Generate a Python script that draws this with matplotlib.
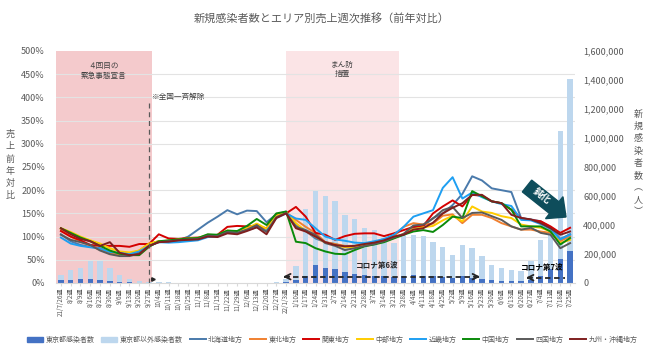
import matplotlib
matplotlib.use('Agg')
import matplotlib.pyplot as plt
import matplotlib.ticker as mticker
from matplotlib.patches import Patch, FancyArrow
from matplotlib.lines import Line2D
import numpy as np

plt.rcParams['font.family'] = ['Noto Sans CJK JP', 'DejaVu Sans']

# ---- データ ----
weeks = ['21/7/26週', '8/2週', '8/9週', '8/16週', '8/23週', '8/30週', '9/6週', '9/13週',
         '9/20週', '9/27週', '10/4週', '10/11週', '10/18週', '10/25週', '11/1週', '11/8週',
         '11/15週', '11/22週', '11/29週', '12/6週', '12/13週', '12/20週', '12/27週', '22/1/3週',
         '1/10週', '1/17週', '1/24週', '1/31週', '2/7週', '2/14週', '2/21週', '2/28週',
         '3/7週', '3/14週', '3/21週', '3/28週', '4/4週', '4/11週', '4/18週', '4/25週',
         '5/2週', '5/9週', '5/16週', '5/23週', '5/30週', '6/6週', '6/13週', '6/20週',
         '6/27週', '7/4週', '7/11週', '7/18週', '7/25週']

tokyo = [18000, 23000, 25000, 30000, 21000, 14000, 7000, 4000, 2000, 1500,
         1000, 600, 400, 300, 250, 200, 200, 200, 200, 250,
         300, 500, 800, 3500, 18000, 51000, 121000, 103000, 97000, 73000,
         62000, 55000, 50000, 46000, 42000, 48000, 52000, 50000, 45000, 40000,
         33000, 45000, 35000, 28000, 20000, 15000, 13000, 11000, 20000, 45000,
         95000, 165000, 220000]

others = [35000, 64000, 81000, 122000, 129000, 92000, 50000, 26000, 14000, 7500,
          4000, 2900, 2100, 1700, 1250, 1000, 800, 800, 800, 950,
          1200, 1500, 2700, 26500, 97000, 459000, 511000, 499000, 468000, 393000,
          377000, 324000, 318000, 264000, 234000, 285000, 276000, 271000, 238000, 206000,
          162000, 219000, 206000, 155000, 106000, 88000, 79000, 69000, 130000, 255000,
          275000, 885000, 1187000]

hokkaido = [105, 90, 82, 78, 75, 65, 63, 62, 68, 83,
            90, 90, 92, 100, 115, 130, 143, 157, 148, 156,
            155, 131, 148, 154, 125, 112, 96, 88, 84, 78,
            76, 80, 84, 90, 98, 104, 118, 122, 140, 150,
            168, 192, 230, 221, 204, 200, 196, 140, 137, 133,
            120, 95, 105]

tohoku = [115, 100, 90, 80, 72, 63, 62, 63, 70, 85,
          90, 91, 93, 95, 96, 103, 102, 112, 110, 117,
          127, 115, 143, 152, 136, 121, 108, 88, 84, 80,
          80, 85, 87, 93, 100, 121, 129, 126, 128, 145,
          148, 129, 147, 147, 140, 129, 122, 115, 115, 111,
          108, 90, 101]

kanto = [112, 100, 92, 82, 80, 80, 80, 78, 84, 84,
         105, 96, 95, 97, 98, 100, 104, 121, 123, 122,
         123, 118, 147, 150, 164, 143, 108, 104, 93, 101,
         106, 107, 107, 101, 107, 114, 121, 123, 150, 165,
         178, 165, 190, 188, 176, 172, 158, 140, 136, 133,
         122, 108, 119]

chubu = [118, 110, 100, 92, 85, 75, 68, 66, 70, 85,
         90, 91, 94, 96, 97, 104, 103, 113, 111, 118,
         128, 117, 145, 153, 129, 112, 100, 87, 82, 77,
         77, 82, 85, 90, 97, 106, 116, 120, 123, 135,
         145, 133, 165, 154, 151, 144, 140, 126, 122, 119,
         111, 86, 93]

kinki = [98, 85, 80, 77, 74, 67, 65, 62, 68, 80,
         88, 87, 88, 90, 92, 99, 100, 110, 108, 114,
         120, 112, 140, 150, 139, 136, 118, 100, 94, 91,
         87, 86, 90, 95, 104, 121, 143, 150, 157, 205,
         228, 182, 195, 185, 176, 170, 166, 136, 135, 127,
         116, 94, 104]

chugoku = [118, 108, 98, 90, 80, 70, 63, 60, 60, 78,
           90, 92, 94, 96, 97, 105, 104, 113, 112, 123,
           138, 125, 150, 154, 89, 86, 75, 68, 63, 62,
           71, 79, 83, 88, 96, 104, 111, 114, 110, 125,
           143, 140, 198, 187, 176, 172, 158, 122, 122, 122,
           111, 83, 97]

shikoku = [104, 93, 88, 82, 70, 62, 58, 58, 64, 80,
           88, 90, 92, 94, 95, 102, 101, 110, 108, 115,
           125, 110, 142, 151, 121, 114, 104, 86, 80, 71,
           75, 80, 84, 90, 98, 106, 124, 126, 139, 157,
           164, 140, 151, 152, 144, 136, 122, 115, 119, 108,
           104, 75, 86]

kyushu = [118, 105, 95, 90, 80, 88, 65, 60, 62, 80,
          88, 89, 92, 93, 94, 100, 99, 107, 105, 112,
          120, 105, 140, 150, 118, 111, 100, 88, 82, 79,
          80, 84, 87, 92, 100, 104, 115, 118, 130, 150,
          162, 172, 190, 190, 176, 172, 147, 140, 137, 129,
          118, 104, 111]

areas = [('北海道地方', hokkaido, '#4A7AAB'),
         ('東北地方', tohoku, '#F08030'),
         ('関東地方', kanto, '#D40000'),
         ('中部地方', chubu, '#FFCC00'),
         ('近畿地方', kinki, '#1E9FF2'),
         ('中国地方', chugoku, '#0A8A0A'),
         ('四国地方', shikoku, '#5A5A5A'),
         ('九州・沖縄地方', kyushu, '#7F1F1F')]

GRAY = '#595959'
x = np.arange(len(weeks))

fig = plt.figure(figsize=(6.5, 3.56), dpi=100)
ax_bar = fig.add_axes([56 / 650, 1 - 283 / 356, (575 - 56) / 650, (283 - 51) / 356])
ax = ax_bar.twinx()

# ---- 棒（感染者数）----
ax_bar.axvspan(-0.5, 9.35, color='#F4CACC', zorder=0.1, lw=0)
ax_bar.axvspan(23.0, 34.5, color='#FBE4E6', zorder=0.1, lw=0)
ax_bar.bar(x, tokyo, width=0.55, color='#4472C4', zorder=2)
ax_bar.bar(x, others, bottom=tokyo, width=0.55, color='#BDD7EE', zorder=2)

ax_bar.set_xlim(-0.5, len(weeks) - 0.5)
ax_bar.set_ylim(0, 1600000)
ax_bar.yaxis.tick_right()
ax_bar.set_yticks(np.arange(0, 1600001, 200000))
ax_bar.yaxis.set_major_formatter(mticker.FuncFormatter(lambda v, p: f'{v:,.0f}'))
ax_bar.set_yticks(np.arange(0, 1600001, 160000), minor=True)
ax_bar.set_axisbelow(True)
ax_bar.grid(which='minor', axis='y', color='#E3E3E3', lw=0.8, zorder=0.5)
ax_bar.tick_params(axis='y', which='both', length=0, labelsize=6.5, labelcolor=GRAY, pad=6)
ax_bar.set_xticks(x)
ax_bar.set_xticklabels(weeks, rotation=90, fontsize=4.5, color=GRAY)
ax_bar.tick_params(axis='x', length=2, color='#D9D9D9', pad=1.5)
for s in ['top', 'left', 'right']:
    ax_bar.spines[s].set_visible(False)
ax_bar.spines['bottom'].set_color('#D9D9D9')

# ---- 折れ線（売上前年対比）----
for name, vals, col in areas:
    ax.plot(x, vals, color=col, lw=1.4, label=name, zorder=3)

ax.set_ylim(0, 500)
ax.yaxis.tick_left()
ax.set_yticks(np.arange(0, 501, 50))
ax.yaxis.set_major_formatter(mticker.FuncFormatter(lambda v, p: f'{v:.0f}%'))
ax.tick_params(axis='y', length=0, labelsize=6.5, labelcolor=GRAY, pad=8)
for s in ['top', 'left', 'right', 'bottom']:
    ax.spines[s].set_visible(False)

# ---- 注記 ----
ax.text(4.4, 457, '４回目の\n緊急事態宣言', ha='center', va='center', fontsize=5.5,
        color='#404040', linespacing=1.3)
ax.text(28.7, 460, 'まん防\n措置', ha='center', va='center', fontsize=5.5,
        color='#404040', linespacing=1.3)
ax.plot([9, 9], [0, 393], ls=(0, (4, 3)), color=GRAY, lw=0.9, zorder=4)
ax.plot(9.4, 9, marker='>', ms=2.5, color='#262626', zorder=4)
ax.text(9.3, 401, '※全国一斉解除', ha='left', va='center', fontsize=5.5, color='#404040')

# コロナ第6波
ax.plot([22.8, 42.7], [13.6, 13.6], ls=(0, (3, 2)), color='#262626', lw=1.3, zorder=5)
ax.annotate('', xy=(22.4, 13.6), xytext=(23.6, 13.6),
            arrowprops=dict(arrowstyle='->', color='#262626', lw=1.3), zorder=5)
ax.annotate('', xy=(43.1, 13.6), xytext=(41.9, 13.6),
            arrowprops=dict(arrowstyle='->', color='#262626', lw=1.3), zorder=5)
ax.text(32.3, 38, 'コロナ第6波', ha='center', va='center', fontsize=5.5,
        fontweight='bold', color='#262626', zorder=5)

# コロナ第7波
ax.plot([47.6, 51.5], [11.5, 11.5], ls=(0, (3, 2)), color='#262626', lw=1.3, zorder=5)
ax.annotate('', xy=(47.2, 11.5), xytext=(48.4, 11.5),
            arrowprops=dict(arrowstyle='->', color='#262626', lw=1.3), zorder=5)
ax.text(49.2, 33, 'コロナ第7波', ha='center', va='center', fontsize=5.5,
        fontweight='bold', color='#000000', zorder=5)

# 鈍化の矢印
arr = FancyArrow(5.27, 1.70, 0.39, -0.31, width=0.15, head_width=0.28, head_length=0.15,
                 length_includes_head=True, transform=fig.dpi_scale_trans,
                 color='#0E4D5B', zorder=10)
fig.add_artist(arr)
fig.text(5.42 / 6.5, 1.60 / 3.56, '鈍化', rotation=-38, ha='center', va='center',
         fontsize=7, fontweight='bold', color='white', zorder=11)

# ---- タイトル・軸ラベル ----
fig.text(0.495, 1 - 18 / 356, '新規感染者数とエリア別売上週次推移（前年対比）',
         ha='center', va='center', fontsize=8, color=GRAY)
fig.text(10 / 650, 1 - 165 / 356, '\n'.join('売上前年対比'), ha='center', va='center',
         fontsize=6.5, color=GRAY, linespacing=1.45)
fig.text(638 / 650, 1 - 163 / 356, '\n'.join('新規感染者数︵人︶'), ha='center', va='center',
         fontsize=6.5, color=GRAY, linespacing=1.45)

# ---- 凡例 ----
handles = [Patch(color='#4472C4', label='東京都感染者数'),
           Patch(color='#BDD7EE', label='東京都以外感染者数')]
handles += [Line2D([0], [0], color=c, lw=1.4, label=n) for n, _, c in areas]
fig.legend(handles=handles, loc='center', bbox_to_anchor=(0.511, 1 - 340 / 356), ncol=10,
           frameon=False, fontsize=5, handlelength=2.3, handleheight=0.8,
           columnspacing=1.0, handletextpad=0.35, labelcolor=GRAY)

plt.savefig('out.png', dpi=100)
